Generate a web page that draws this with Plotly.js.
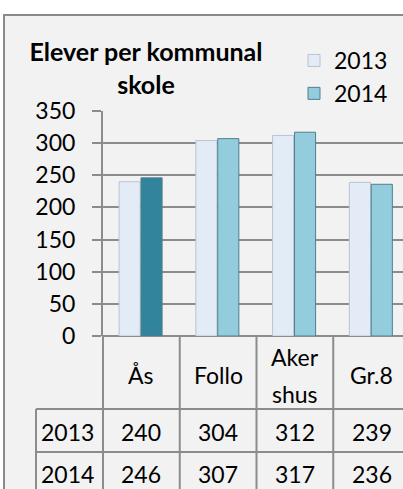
<!DOCTYPE html>
<html>
<head>
<meta charset="utf-8">
<script src="https://cdn.plot.ly/plotly-3.0.1.min.js"></script>
<style>
html,body{margin:0;padding:0;overflow:hidden;background:#fff;width:403px;height:489px;}
#frame{position:absolute;left:3px;top:14px;width:440px;height:520px;background:#f2f2f2;
  border-top:2px solid #8a8a8a;border-left:2px solid #8a8a8a;}
#chart{position:absolute;left:0;top:0;width:410px;height:489px;}
</style>
</head>
<body>
<div id="frame"></div>
<div id="chart"></div>
<script>
// ---- data ----
const categories = ['Ås', 'Follo', 'Akershus', 'Gr.8'];
const categoryLabels = ['Ås', 'Follo', 'Aker<br>shus', 'Gr.8'];
const seriesNames = ['2013', '2014'];
const values2013 = [240, 304, 312, 239];
const values2014 = [246, 307, 317, 236];
const yTicks = [0, 50, 100, 150, 200, 250, 300, 350];
const titleText = '<b>Elever per kommunal<br>skole</b>';

// ---- style ----
const FONT = 'Lato, "Open Sans", sans-serif';
const FS = 23;
const GRID = '#8c8c8c';
const c2013 = '#e3ebf6';
const c2014 = '#93cddd';
const c2014hi = '#31849b';

const FW = 410, FH = 489;
const L = 103, T = 111, R = 0;
const PW = FW - L - R, PH = 336 - T;
const px2x = p => (p - L) / PW;
const px2y = p => (T + PH - p) / PH;

const traces = [
  {
    type: 'bar', x: categories, y: values2013, name: seriesNames[0],
    width: 0.275, offset: -0.29, showlegend: true, legendgroup: 'a',
    marker: {color: c2013, line: {color: '#b9c3d1', width: 1}},
    hoverinfo: 'x+y'
  },
  {
    type: 'bar', x: categories, y: values2014, name: seriesNames[1],
    width: 0.275, offset: -0.005, showlegend: false, legendgroup: 'b',
    marker: {color: values2014.map((v, i) => i === 0 ? c2014hi : c2014),
             line: {color: '#4f7f8c', width: 1}},
    hoverinfo: 'x+y'
  },
  {
    type: 'bar', x: [categories[0]], y: [null], name: seriesNames[1],
    width: 0.275, offset: -0.005, showlegend: true, legendgroup: 'b',
    marker: {color: c2014, line: {color: '#4f7f8c', width: 1}},
    hoverinfo: 'skip'
  }
];

const shapes = [];
// y axis line extension through table
shapes.push({type: 'line', xref: 'paper', yref: 'paper', x0: 0, x1: 0,
  y0: px2y(336), y1: px2y(489), line: {color: GRID, width: 2}});
// category separators
for (let i = 1; i < categories.length; i++) {
  shapes.push({type: 'line', xref: 'x', yref: 'paper', x0: i - 0.5, x1: i - 0.5,
    y0: px2y(336), y1: px2y(489), line: {color: GRID, width: 2}});
}
// table horizontal lines
[409, 452].forEach(py => shapes.push({type: 'line', xref: 'paper', yref: 'paper',
  x0: px2x(36), x1: 1.05, y0: px2y(py), y1: px2y(py), line: {color: GRID, width: 2}}));
// table left border
shapes.push({type: 'line', xref: 'paper', yref: 'paper', x0: px2x(36), x1: px2x(36),
  y0: px2y(409), y1: px2y(489), line: {color: GRID, width: 2}});

const annotations = [];
const tfont = {family: FONT, size: FS, color: '#000'};
categories.forEach((c, i) => {
  const lines = categoryLabels[i].split('<br>');
  const gap = 37;
  lines.forEach((ln, k) => {
    const shift = -39 - (k - (lines.length - 1) / 2) * gap;
    annotations.push({xref: 'x', yref: 'paper', x: c, y: 0, yshift: shift,
      yanchor: 'middle', xanchor: 'center', showarrow: false, text: ln, font: tfont});
  });
  annotations.push({xref: 'x', yref: 'paper', x: c, y: 0, yshift: -96,
    yanchor: 'middle', xanchor: 'center', showarrow: false, text: String(values2013[i]), font: tfont});
  annotations.push({xref: 'x', yref: 'paper', x: c, y: 0, yshift: -138,
    yanchor: 'middle', xanchor: 'center', showarrow: false, text: String(values2014[i]), font: tfont});
});
[[seriesNames[0], -96], [seriesNames[1], -138]].forEach(([t, s]) => {
  annotations.push({xref: 'paper', yref: 'paper', x: px2x(67), y: 0, yshift: s,
    yanchor: 'middle', xanchor: 'center', showarrow: false, text: t, font: tfont});
});

const layout = {
  width: FW, height: FH,
  margin: {l: L, r: R, t: T, b: FH - T - PH, pad: 0},
  paper_bgcolor: 'rgba(0,0,0,0)',
  plot_bgcolor: 'rgba(0,0,0,0)',
  font: {family: FONT, size: FS, color: '#000'},
  title: {text: titleText, x: 146 / FW, xanchor: 'center', xref: 'container',
    y: 1 - 61 / FH, yanchor: 'middle', yref: 'container',
    font: {family: FONT, size: 25, color: '#000'}},
  barmode: 'overlay',
  showlegend: true,
  legend: {x: px2x(294), xanchor: 'left', y: px2y(39), yanchor: 'top',
    bgcolor: 'rgba(0,0,0,0)', tracegroupgap: 18, traceorder: 'normal',
    font: {family: FONT, size: FS, color: '#000'}, itemwidth: 30},
  xaxis: {range: [-0.5, categories.length - 0.5], showticklabels: false,
    showgrid: false, zeroline: false, showline: false, ticks: '', fixedrange: true},
  yaxis: {range: [0, 350], tickvals: yTicks, ticktext: yTicks.map(String),
    showgrid: true, gridcolor: GRID, gridwidth: 2, zeroline: true, zerolinecolor: GRID,
    zerolinewidth: 2, showline: true, linecolor: GRID, linewidth: 2,
    ticks: 'outside', ticklen: 9, tickwidth: 2, tickcolor: GRID,
    ticklabelstandoff: 12, tickfont: {family: FONT, size: FS, color: '#000'},
    fixedrange: true},
  shapes: shapes,
  annotations: annotations
};

Plotly.newPlot('chart', traces, layout, {displayModeBar: false, staticPlot: true});
</script>
</body>
</html>
